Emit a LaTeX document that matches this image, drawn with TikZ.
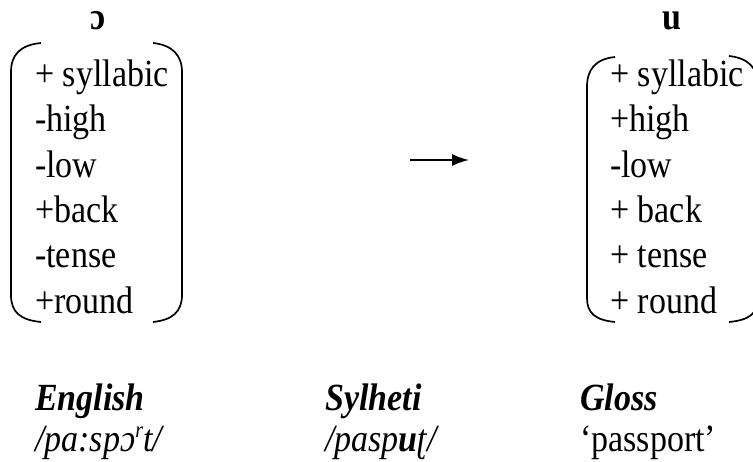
\documentclass[tikz,border=0pt]{standalone}
\usepackage{fontspec}
\usepackage{graphicx}
\setmainfont{Liberation Serif}
\usetikzlibrary{arrows.meta}
% glyphs are set a little taller than wide
\newcommand\tall[1]{\scalebox{1}[1.13]{#1}}
\tikzset{
  feat/.style={anchor=base west, inner sep=0pt, font=\fontsize{34}{40}\selectfont},
  seg/.style={anchor=center, inner sep=0pt, font=\fontsize{34}{40}\selectfont\bfseries},
  lbl/.style={anchor=base west, inner sep=0pt, font=\fontsize{34}{40}\selectfont},
  brk/.style={line width=1.7pt},
}
\begin{document}
\begin{tikzpicture}[x=1pt, y=-1pt]
  \useasboundingbox (0,0) rectangle (753,462);
  \clip (0,0) rectangle (753,462);

  % segment symbols
  \node[seg] (segL) at (98,21) {\tall{ɔ}};
  \node[seg] (segR) at (672,21) {\tall{u}};

  % feature matrix of the source vowel
  \node[feat] (l1) at (35,87)  {\tall{+ syllabic}};
  \node[feat] (l2) at (35,132) {\tall{-high}};
  \node[feat] (l3) at (35,178) {\tall{-low}};
  \node[feat] (l4) at (35,223) {\tall{+back}};
  \node[feat] (l5) at (35,268) {\tall{-tense}};
  \node[feat] (l6) at (35,314) {\tall{+round}};

  \draw[brk] (41,43) .. controls (20,45) and (11,55) .. (11,72) -- (11,295)
             .. controls (11,312) and (20,320) .. (41,322);
  \draw[brk] (153,43) .. controls (172,45) and (182,55) .. (182,72) -- (182,295)
             .. controls (182,312) and (172,320) .. (153,322);

  % feature matrix of the target vowel
  \node[feat] (r1) at (610,87)  {\tall{+ syllabic}};
  \node[feat] (r2) at (610,132) {\tall{+high}};
  \node[feat] (r3) at (610,178) {\tall{-low}};
  \node[feat] (r4) at (610,223) {\tall{+ back}};
  \node[feat] (r5) at (610,268) {\tall{+ tense}};
  \node[feat] (r6) at (610,314) {\tall{+ round}};

  \draw[brk] (615,57) .. controls (595,59) and (587,70) .. (587,87) -- (587,298)
             .. controls (587,313) and (595,320) .. (615,322);
  \draw[brk] (729,56) .. controls (748,58) and (758,68) .. (758,85) -- (758,298)
             .. controls (758,313) and (750,320) .. (729,322);

  % change arrow
  \coordinate (arrS) at (410,160);
  \coordinate (arrE) at (469,160);
  \draw[line width=1.7pt, -{Latex[length=17pt,width=12pt]}] (arrS) -- (arrE);

  % example word
  \node[lbl] (hEng) at (35,410) {\tall{\textbf{\textit{English}}}};
  \node[lbl] (hSyl) at (325,410) {\tall{\textbf{\textit{Sylheti}}}};
  \node[lbl] (hGl)  at (580,410) {\tall{\textbf{\textit{Gloss}}}};
  \node[lbl] (wEng) at (35,452) {\tall{\textit{/pa:spɔ\raisebox{13pt}{\fontsize{20}{20}\selectfont r}t/}}};
  \node[lbl] (wSyl) at (325,452) {\tall{\textit{/pasp\textbf{u}ʈ/}}};
  \node[lbl] (wGl)  at (580,452) {\tall{‘passport’}};
\end{tikzpicture}
\end{document}
